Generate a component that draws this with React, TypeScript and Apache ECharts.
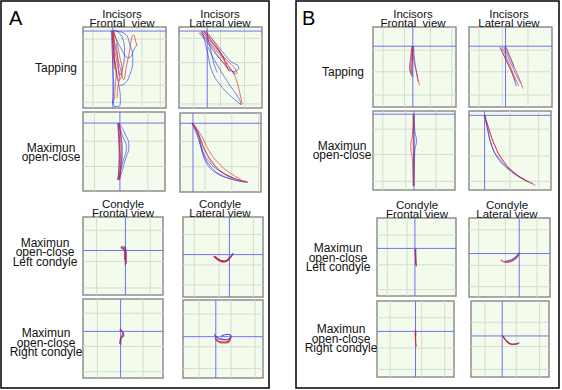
import React, { useEffect, useRef } from "react";
import * as echarts from "echarts";

type Pt = [number, number];
type Trace = Pt[];

// ---------- DATA (coordinates in 0..100 panel units, y downward) ----------
const columnTitles: string[][] = [
  ["Incisors", "Frontal  view"],
  ["Incisors", "Lateral view"],
  ["Condyle", "Frontal view"],
  ["Condyle", "Lateral view"],
];
const rowLabels: string[][] = [
  ["Tapping"],
  ["Maximun", "open-close"],
  ["Maximun", "open-close", "Left condyle"],
  ["Maximun", "open-close", "Right condyle"],
];
const figureLetters = ["A", "B"];

// crosshair (origin) per panel: A1..A8, B1..B8
const crossX = [36, 34, 45, 16, 53, 58, 47, 41, 48, 44, 50, 19, 48, 62, 50, 40];
const crossY = [5, 5, 14, 13, 43, 47, 41, 47, 24, 24, 4, 5.5, 39, 45, 40, 46];

// grid lines per panel
const gridXs: number[][] = [
  [12, 71, 93], [18, 50, 79], [14, 79], [31, 64, 97],
  [17, 84], [14, 45, 88], [18, 75], [20, 60, 90],
  [12, 38, 69, 95], [12, 40, 71], [12, 40, 77], [50, 85],
  [13, 38], [12, 45, 84], [17, 58, 88], [18, 58, 88],
];
const gridYs: number[][] = [
  [15, 43, 72, 93], [14, 44, 72, 95], [37, 69], [36, 68],
  [17, 57, 91], [22, 60, 85], [18, 60, 92], [18, 60, 88],
  [29, 56, 85], [29, 56, 85], [23, 55, 89], [23, 57, 89],
  [22, 60, 92], [15, 60, 87], [22, 62, 90], [28, 60, 90],
];

// red traces per panel
const redTraces: Trace[][] = [
  // A1 tapping frontal
  [
    [[36, 4], [37, 20], [38, 40], [40, 55], [39, 70], [38, 90]],
    [[37, 5], [40, 15], [44, 35], [47, 55], [43, 66], [39, 50], [37, 30]],
    [[36, 6], [40, 30], [46, 55], [49, 65], [52, 50], [56, 30], [59, 12], [61, 10], [63, 16], [65, 23]],
    [[37, 5], [38, 25], [41, 45], [44, 60], [42, 75], [41, 88]],
    [[35, 4], [36, 20], [37, 40], [38, 52]],
  ],
  // A2 tapping lateral
  [
    [[28, 6], [40, 20], [55, 38], [68, 52], [70, 58]],
    [[30, 5], [45, 25], [58, 45], [66, 58], [70, 68], [76, 95]],
    [[32, 4], [42, 18], [52, 35], [58, 50], [60, 55]],
    [[26, 7], [38, 22], [50, 40], [62, 55]],
    [[29, 5], [38, 16], [47, 28], [55, 40]],
  ],
  // A3 max frontal
  [
    [[43, 14], [44, 40], [46, 65], [45, 86]],
    [[44, 14], [46, 30], [47, 55], [44, 85]],
    [[43, 15], [45, 45], [44, 70], [42, 86]],
  ],
  // A4 max lateral
  [
    [[15, 13], [22, 25], [30, 45], [40, 62], [52, 75], [65, 82], [84, 87]],
    [[15, 13], [24, 30], [32, 50], [42, 66], [55, 77], [70, 84], [82, 87]],
    [[16, 13], [26, 28], [36, 48], [48, 64], [62, 76], [75, 84]],
  ],
  // A5 condyle frontal left
  [[[47, 39], [52, 42], [53, 50], [53, 62]], [[48, 40], [52, 44], [52, 55]]],
  // A6 condyle lateral left
  [[[38, 49], [44, 53], [50, 56], [56, 54], [62, 47]], [[40, 50], [46, 55], [52, 56], [58, 52]]],
  // A7 condyle frontal right
  [[[46, 39], [50, 44], [48, 48], [47, 58]]],
  // A8 condyle lateral right
  [[[40, 48], [44, 53], [52, 54], [58, 52], [60, 47]], [[42, 50], [48, 55], [55, 55], [59, 50]]],
  // B1 tapping frontal
  [
    [[47, 24], [46, 40], [45, 55], [47, 62]],
    [[48, 24], [49, 40], [52, 55], [56, 73]],
    [[48, 25], [47, 45], [46, 60]],
  ],
  // B2 tapping lateral
  [
    [[40, 25], [48, 45], [56, 65], [60, 74]],
    [[43, 24], [50, 40], [58, 58], [65, 77]],
    [[38, 26], [45, 42], [52, 58], [56, 68]],
  ],
  // B3 max frontal
  [
    [[49, 4], [48, 30], [46, 45], [48, 60], [49, 95]],
    [[50, 5], [49, 40], [50, 70], [49, 94]],
  ],
  // B4 max lateral
  [
    [[19, 5], [24, 22], [30, 40], [40, 60], [55, 78], [70, 88], [81, 94]],
    [[19, 5], [25, 25], [32, 45], [42, 64], [56, 79], [72, 90]],
  ],
  // B5
  [[[49, 39], [49, 50], [50, 62]]],
  // B6
  [[[62, 45], [58, 51], [52, 55], [46, 56], [39, 53]]],
  // B7
  [[[50, 38], [50, 50], [51, 60]]],
  // B8
  [[[40, 45], [45, 52], [52, 57], [60, 56]]],
];

// blue traces per panel
const blueTraces: Trace[][] = [
  [
    [[34, 4], [35, 25], [36, 50], [37, 75], [36, 95]],
    [[37, 4], [42, 6], [48, 15], [50, 30], [48, 50], [44, 60], [42, 40], [40, 20]],
    [[38, 5], [50, 8], [56, 20], [60, 40], [56, 60], [50, 70], [44, 72]],
    [[36, 5], [45, 25], [55, 38], [63, 25], [65, 22]],
    [[35, 5], [38, 40], [42, 65], [45, 90], [43, 98], [38, 98], [36, 90]],
  ],
  [
    [[24, 7], [36, 22], [48, 38], [60, 50], [68, 58], [64, 55]],
    [[28, 5], [34, 30], [40, 55], [50, 72], [62, 85], [75, 96], [72, 88], [60, 70], [45, 45], [35, 25]],
    [[30, 6], [40, 15], [52, 30], [62, 42], [72, 50], [66, 55], [56, 48]],
    [[33, 5], [38, 28], [42, 45], [46, 56]],
    [[26, 6], [37, 19], [49, 34], [58, 46]],
  ],
  [
    [[44, 14], [50, 25], [56, 43], [51, 62], [46, 80], [43, 86]],
    [[43, 14], [48, 30], [53, 45], [48, 65], [44, 86]],
    [[42, 14], [44, 50], [43, 86]],
    [[44, 15], [47, 35], [48, 50], [45, 75], [42, 86]],
  ],
  [
    [[15, 13], [20, 22], [24, 35], [27, 48], [32, 62], [42, 74], [58, 82], [80, 87]],
    [[15, 13], [22, 24], [26, 40], [30, 55], [38, 68], [50, 78], [68, 85], [84, 88]],
    [[15, 13], [21, 28], [28, 48], [36, 62], [50, 74], [66, 82]],
  ],
  [[[48, 38], [53, 40], [54, 48], [54, 60]]],
  [[[40, 49], [46, 54], [52, 55], [58, 51], [63, 45]]],
  [[[46, 38], [51, 46], [47, 50], [46, 57]]],
  [[[39, 44], [46, 50], [54, 51], [60, 46], [56, 44], [48, 46]]],
  [
    [[47, 24], [45, 40], [44, 52], [46, 58]],
    [[49, 24], [50, 40], [53, 60], [54, 68]],
    [[48, 24], [47, 50], [48, 62]],
  ],
  [
    [[37, 25], [44, 40], [52, 58], [57, 74]],
    [[42, 25], [49, 42], [57, 60], [62, 70]],
    [[44, 24], [50, 38], [54, 50]],
  ],
  [
    [[50, 4], [51, 25], [53, 38], [51, 50], [50, 95]],
    [[49, 4], [50, 45], [49, 80], [50, 95]],
  ],
  [
    [[19, 5], [22, 20], [26, 38], [34, 58], [46, 72], [62, 84], [78, 92]],
    [[19, 5], [23, 24], [28, 45], [38, 62], [52, 76], [68, 87]],
  ],
  [[[48, 40], [49, 55], [49, 60]]],
  [[[62, 44], [57, 50], [50, 54], [44, 55]]],
  [[[50, 40], [50, 46]]],
  [[[41, 46], [46, 53], [54, 57], [62, 55]]],
];

// ---------- LAYOUT ----------
const panelBoxes: number[][] = [
  [83, 27, 83, 81], [179, 27, 83, 81], [83, 112, 82, 79], [180, 113, 81, 79],
  [83, 217, 80, 78], [183, 217, 80, 80], [83, 299, 80, 79], [183, 300, 80, 78],
  [373, 27, 83, 80], [469, 27, 83, 80], [373, 111, 82, 79], [469, 111, 82, 79],
  [377, 218, 79, 78], [469, 218, 81, 79], [377, 301, 77, 76], [471, 301, 78, 76],
];
const condylePanels = [4, 5, 6, 7, 12, 13, 14, 15];
// [figure, column, x, y1, y2]
const titlePos = [
  [0, 0, 122, 13.5, 22.5], [0, 1, 220, 13.5, 22.5], [0, 2, 123, 204, 213], [0, 3, 220, 204, 213],
  [1, 0, 413, 13.5, 22.5], [1, 1, 509, 13.5, 22.5], [1, 2, 417, 204.5, 213.5], [1, 3, 507, 204.5, 213.5],
];
// [row, x, yFirst, step]
const rowPos = [
  [0, 56, 68, 9.5], [1, 51, 147.5, 9.8], [2, 45, 242.5, 9.6], [3, 46, 333, 9.6],
  [0, 343, 72, 9.5], [1, 342, 145.5, 9.8], [2, 338, 248, 9.7], [3, 341, 329, 9.6],
];

const FONT = "Liberation Sans, Arial, sans-serif";
const FS = 11.5;
const RED = "rgba(215,30,40,0.8)";
const BLUE = "rgba(40,40,230,0.75)";
const GRIDLINE = "#d5dccd";
const CROSS = "#7272f0";

export default function App() {
  const ref = useRef<HTMLDivElement>(null);
  useEffect(() => {
    if (!ref.current) return;
    const chart = echarts.init(ref.current, undefined, { renderer: "svg" });
    const grids: any[] = [];
    const xAxes: any[] = [];
    const yAxes: any[] = [];
    const series: any[] = [];
    panelBoxes.forEach((b, i) => {
      grids.push({
        left: b[0], top: b[1], width: b[2], height: b[3],
        show: true, backgroundColor: "#f2fbec", borderColor: "#8f8f8f", borderWidth: 1.5, z: 0,
      });
      xAxes.push({ type: "value", gridIndex: i, min: 0, max: 100, show: false });
      yAxes.push({ type: "value", gridIndex: i, min: 0, max: 100, inverse: true, show: false });
      const seg = (data: Pt[], color: string, width: number, z: number, smooth = false) =>
        series.push({
          type: "line", xAxisIndex: i, yAxisIndex: i, data, z,
          showSymbol: false, symbol: "none", smooth, silent: true,
          lineStyle: { color, width },
        });
      gridXs[i].forEach((v) => seg([[v, 0], [v, 100]], GRIDLINE, 1, 1));
      gridYs[i].forEach((v) => seg([[0, v], [100, v]], GRIDLINE, 1, 1));
      seg([[crossX[i], 0], [crossX[i], 100]], CROSS, 1, 2);
      seg([[0, crossY[i]], [100, crossY[i]]], CROSS, 1, 2);
      const w = condylePanels.includes(i) ? 1.3 : 0.8;
      blueTraces[i].forEach((t) => seg(t, BLUE, w, 3, true));
      redTraces[i].forEach((t) => seg(t, RED, w, 4, true));
    });

    const graphics: any[] = [];
    graphics.push({ type: "rect", shape: { x: 1, y: 1, width: 268, height: 387 }, style: { fill: "none", stroke: "#000", lineWidth: 1.5 } });
    graphics.push({ type: "rect", shape: { x: 296, y: 1, width: 263, height: 387 }, style: { fill: "none", stroke: "#000", lineWidth: 1.5 } });
    graphics.push({ type: "text", x: 9, y: 28, style: { text: figureLetters[0], font: `20px ${FONT}`, fill: "#000", textVerticalAlign: "bottom" } });
    graphics.push({ type: "text", x: 302, y: 28, style: { text: figureLetters[1], font: `20px ${FONT}`, fill: "#000", textVerticalAlign: "bottom" } });
    titlePos.forEach((t) => {
      const lines = columnTitles[t[1]];
      graphics.push({ type: "text", x: t[2], y: t[3], style: { text: lines[0], font: `${FS}px ${FONT}`, fill: "#111", textAlign: "center", textVerticalAlign: "middle" } });
      graphics.push({ type: "text", x: t[2], y: t[4], style: { text: lines[1], font: `${FS}px ${FONT}`, fill: "#111", textAlign: "center", textVerticalAlign: "middle" } });
    });
    rowPos.forEach((r) => {
      rowLabels[r[0]].forEach((s, k) => {
        graphics.push({ type: "text", x: r[1], y: r[2] + k * r[3], style: { text: s, font: `${FS + 0.5}px ${FONT}`, fill: "#111", textAlign: "center", textVerticalAlign: "middle" } });
      });
    });

    chart.setOption({
      animation: false,
      backgroundColor: "#fff",
      grid: grids,
      xAxis: xAxes,
      yAxis: yAxes,
      series,
      graphic: graphics,
    });
    return () => chart.dispose();
  }, []);
  return <div ref={ref} style={{ position: "fixed", left: 0, top: 0, width: 562, height: 390 }} />;
}
